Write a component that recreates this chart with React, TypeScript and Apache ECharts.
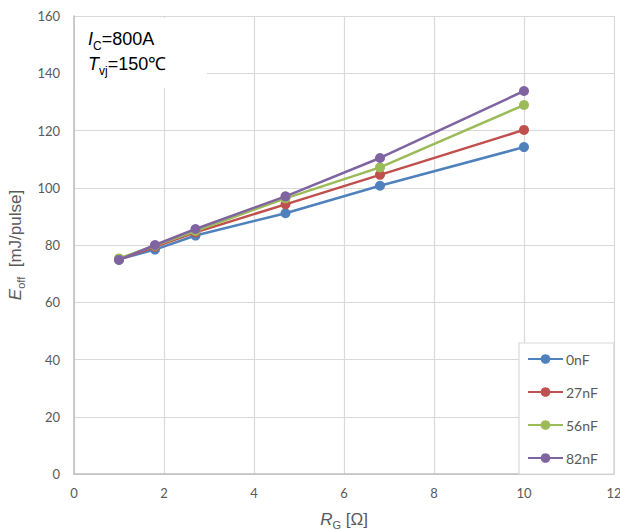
import React, { useEffect, useRef } from "react";
import * as echarts from "echarts";

const rg = [1, 1.8, 2.7, 4.7, 6.8, 10];
const s0nF = [75.0, 78.4, 83.3, 91.1, 100.7, 114.2];
const s27nF = [74.9, 79.4, 84.4, 94.2, 104.5, 120.2];
const s56nF = [75.3, 79.8, 84.9, 96.3, 107.1, 128.9];
const s82nF = [74.8, 80.0, 85.6, 97.0, 110.4, 133.8];
const seriesNames = ["0nF", "27nF", "56nF", "82nF"];
const colors = ["#4f81bd", "#c0504d", "#9bbb59", "#8064a2"];
const xTicks = { min: 0, max: 12, interval: 2 };
const yTicks = { min: 0, max: 160, interval: 20 };

export default function App() {
  const ref = useRef<HTMLDivElement>(null);
  useEffect(() => {
    if (!ref.current) return;
    const chart = echarts.init(ref.current, null, { renderer: "svg" });
    const all = [s0nF, s27nF, s56nF, s82nF];
    const labelFont = "Lato, 'Noto Sans', sans-serif";
    const ar = "Arial, 'Liberation Sans', sans-serif";
    chart.setOption({
      animation: false,
      color: colors,
      grid: { left: 74, right: 6, top: 16, bottom: 56, containLabel: false, outerBoundsMode: "none" },
      xAxis: {
        type: "value",
        ...xTicks,
        axisLine: { lineStyle: { color: "#bfbfbf", width: 1.5 } },
        axisTick: { show: false },
        splitLine: { lineStyle: { color: "#d9d9d9", width: 1.2 } },
        axisLabel: { color: "#595959", fontSize: 13, fontFamily: labelFont, margin: 12 },
        name: "{i|R}{s|G}{n| [Ω]}",
        nameLocation: "middle",
        nameGap: 34,
        nameTextStyle: {
          rich: {
            i: { fontSize: 17, fontStyle: "italic", color: "#595959", fontFamily: ar, lineHeight: 22, verticalAlign: "middle" },
            s: { fontSize: 11, color: "#595959", fontFamily: ar, lineHeight: 22, verticalAlign: "bottom" },
            n: { fontSize: 17, color: "#595959", fontFamily: ar, lineHeight: 22, verticalAlign: "middle" },
          },
        },
      },
      yAxis: {
        type: "value",
        ...yTicks,
        axisLine: { show: true, lineStyle: { color: "#bfbfbf", width: 1.5 } },
        axisTick: { show: false },
        splitLine: { lineStyle: { color: "#d9d9d9", width: 1.2 } },
        axisLabel: { color: "#595959", fontSize: 13, fontFamily: labelFont, margin: 14 },
        name: "{i|E}{s|off}{n|  [mJ/pulse]}",
        nameLocation: "middle",
        nameRotate: 90,
        nameGap: 42,
        nameTextStyle: {
          rich: {
            i: { fontSize: 17, fontStyle: "italic", color: "#595959", fontFamily: ar, lineHeight: 22, verticalAlign: "middle" },
            s: { fontSize: 11, color: "#595959", fontFamily: ar, lineHeight: 22, verticalAlign: "bottom" },
            n: { fontSize: 17, color: "#595959", fontFamily: ar, lineHeight: 22, verticalAlign: "middle" },
          },
        },
      },
      legend: {
        orient: "vertical",
        left: 519,
        top: 343,
        padding: [9, 16, 9, 8],
        itemWidth: 35,
        itemHeight: 12,
        itemGap: 19,
        backgroundColor: "#ffffff",
        borderColor: "#d9d9d9",
        borderWidth: 1.2,
        textStyle: { color: "#595959", fontSize: 14, fontFamily: labelFont, padding: [0, 0, 0, -2] },
        data: seriesNames,
      },
      graphic: [
        { type: "rect", z: 1, shape: { x: 75, y: 18, width: 132, height: 70 }, style: { fill: "#ffffff" } },
        {
          type: "text",
          z: 2,
          left: 88,
          top: 30,
          style: {
            text: "{i|I}{s|C}{n|=800A}\n{i|T}{s|vj}{n|=150℃}",
            rich: {
              i: { fontSize: 18, fontStyle: "italic", fill: "#000", fontFamily: ar, lineHeight: 25, verticalAlign: "middle" },
              s: { fontSize: 12, fill: "#000", fontFamily: ar, lineHeight: 25, verticalAlign: "bottom" },
              n: { fontSize: 18, fill: "#000", fontFamily: ar, lineHeight: 25, verticalAlign: "middle" },
            },
          },
        },
      ],
      series: all.map((d, k) => ({
        name: seriesNames[k],
        type: "line",
        data: rg.map((x, i) => [x, d[i]]),
        symbol: "circle",
        symbolSize: 10,
        lineStyle: { width: 2.5, color: colors[k] },
        itemStyle: { color: colors[k] },
        z: 2 + k,
      })),
    });
    return () => chart.dispose();
  }, []);
  return <div ref={ref} style={{ width: 620, height: 530, position: "absolute", left: 0, top: 0 }} />;
}
